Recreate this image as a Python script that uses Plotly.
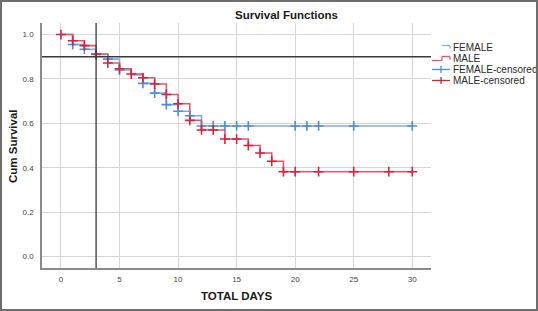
import plotly.graph_objects as go

# ---- data ----
female_t = [0, 1, 2, 3, 4, 5, 6, 7, 8, 9, 10, 11, 12, 30]
female_s = [1.0, 0.955, 0.934, 0.910, 0.889, 0.840, 0.818, 0.780, 0.736, 0.684, 0.654, 0.634, 0.588, 0.588]

male_t = [0, 1, 2, 3, 4, 5, 6, 7, 8, 9, 10, 11, 12, 14, 16, 17, 18, 19, 30]
male_s = [1.0, 0.972, 0.950, 0.912, 0.872, 0.846, 0.822, 0.805, 0.777, 0.730, 0.688, 0.613, 0.570,
          0.529, 0.500, 0.466, 0.429, 0.382, 0.382]

female_cens_t = [1, 2, 3, 4, 5, 7, 8, 9, 10, 11, 12, 13, 14, 15, 16, 20, 21, 22, 25, 30]
female_cens_s = [0.955, 0.934, 0.910, 0.889, 0.840, 0.780, 0.736, 0.684, 0.654, 0.634, 0.588, 0.588,
                 0.588, 0.588, 0.588, 0.588, 0.588, 0.588, 0.588, 0.588]

male_cens_t = [0, 1, 2, 3, 4, 5, 6, 7, 8, 9, 10, 11, 12, 13, 14, 15, 16, 17, 18, 19, 20, 22, 25, 28, 30]
male_cens_s = [1.0, 0.972, 0.950, 0.912, 0.872, 0.846, 0.822, 0.805, 0.777, 0.730, 0.688, 0.613, 0.570,
               0.570, 0.529, 0.529, 0.500, 0.466, 0.429, 0.382, 0.382, 0.382, 0.382, 0.382, 0.382]

ref_survival = 0.9
ref_day = 3

x_ticks = [0, 5, 10, 15, 20, 25, 30]
y_ticks = [0.0, 0.2, 0.4, 0.6, 0.8, 1.0]
y_ticklabels = ["0.0", "0.2", "0.4", "0.6", "0.8", "1.0"]

legend_labels = ["FEMALE", "MALE", "FEMALE-censored", "MALE-censored"]

# ---- styling ----
W, H = 538, 311
ML, MR, MT, MB = 42, 107, 23, 43
PW, PH = W - ML - MR, H - MT - MB
BLUE_LINE = "#79aee3"
BLUE_MARK = "#4a8fd6"
RED_LINE = "#e5566d"
RED_MARK = "#d8213c"
FONT = "Arial, Liberation Sans, sans-serif"


def px(x):
    return (x - ML) / PW


def py(y):
    return (H - MB - y) / PH


def seg(x0, y0, x1, y1, color):
    return dict(type="line", xref="paper", yref="paper", x0=px(x0), x1=px(x1), y0=py(y0), y1=py(y1),
                line=dict(color=color, width=1.3))


fig = go.Figure()

fig.add_trace(go.Scatter(x=female_t, y=female_s, mode="lines", line=dict(shape="hv", color=BLUE_LINE, width=1.6),
                         name=legend_labels[0], showlegend=False))
fig.add_trace(go.Scatter(x=male_t, y=male_s, mode="lines", line=dict(shape="hv", color=RED_LINE, width=1.6),
                         name=legend_labels[1], showlegend=False))
fig.add_trace(go.Scatter(x=female_cens_t, y=female_cens_s, mode="markers",
                         marker=dict(symbol="cross-thin", size=7, line=dict(color=BLUE_MARK, width=1.6)),
                         name=legend_labels[2], showlegend=False))
fig.add_trace(go.Scatter(x=male_cens_t, y=male_cens_s, mode="markers",
                         marker=dict(symbol="cross-thin", size=7, line=dict(color=RED_MARK, width=1.6)),
                         name=legend_labels[3], showlegend=False))

# reference lines
fig.add_hline(y=ref_survival, line=dict(color="#3a3a3a", width=1.3))
fig.add_vline(x=ref_day, line=dict(color="#3a3a3a", width=1.3))

shapes = []
# manual legend
leg_x0, leg_x1 = 432, 450
leg_y = [47.5, 58.5, 69.5, 80.5]
cols = [BLUE_LINE, RED_LINE, BLUE_MARK, RED_MARK]
annotations = []
for i, lab in enumerate(legend_labels):
    yy = leg_y[i]
    c = cols[i]
    if i < 2:
        shapes.append(seg(leg_x0, yy + 2, leg_x0 + 10, yy + 2, c))
        shapes.append(seg(leg_x0 + 10, yy + 2, leg_x0 + 10, yy - 2, c))
        shapes.append(seg(leg_x0 + 10, yy - 2, leg_x1, yy - 2, c))
        shapes.append(seg(leg_x1, yy - 2, leg_x1, yy + 1, c))
    else:
        shapes.append(seg(leg_x0, yy, leg_x1, yy, c))
        shapes.append(seg(441, yy - 3.5, 441, yy + 3.5, c))
    annotations.append(dict(text=lab, xref="paper", yref="paper", x=px(451), y=py(yy), xanchor="left",
                            yanchor="middle", showarrow=False, font=dict(family=FONT, size=10, color="#2a2a2a")))

# axis titles
annotations.append(dict(text="<b>TOTAL DAYS</b>", xref="paper", yref="paper", x=px(237), y=py(295.5),
                        xanchor="center", yanchor="middle", showarrow=False,
                        font=dict(family=FONT, size=11.5, color="#1a1a1a")))
annotations.append(dict(text="<b>Cum Survival</b>", xref="paper", yref="paper", x=px(13), y=py(146),
                        xanchor="center", yanchor="middle", showarrow=False, textangle=-90,
                        font=dict(family=FONT, size=11.5, color="#1a1a1a")))

fig.update_layout(
    width=W, height=H,
    margin=dict(l=ML, r=MR, t=MT, b=MB),
    paper_bgcolor="white", plot_bgcolor="white",
    showlegend=False,
    title=dict(text="<b>Survival Functions</b>", x=286.5 / W, xanchor="center", y=1 - 15 / H,
               yanchor="middle", font=dict(family=FONT, size=11.5, color="#1a1a1a")),
    shapes=shapes,
    annotations=annotations,
    font=dict(family=FONT),
)
fig.update_xaxes(range=[-1.62, 31.6], tickvals=x_ticks, showgrid=True, gridcolor="#d6d6d6", gridwidth=1,
                 zeroline=False, showline=True, linecolor="#8a8a8a", linewidth=1.5,
                 tickfont=dict(family=FONT, size=8, color="#444"), ticks="", ticklabelstandoff=3)
fig.update_yaxes(range=[-0.052, 1.052], tickvals=y_ticks, ticktext=y_ticklabels, showgrid=True,
                 gridcolor="#d6d6d6", gridwidth=1, zeroline=False, showline=True, linecolor="#8a8a8a",
                 linewidth=1.5, tickfont=dict(family=FONT, size=8, color="#444"), ticks="",
                 ticklabelstandoff=5)

post = ("document.body.style.margin='0';document.body.style.padding='0';"
        "var bd=document.createElement('div');"
        "bd.style.cssText='position:fixed;left:0;top:0;width:538px;height:311px;"
        "border:2px solid #6e6e6e;box-sizing:border-box;pointer-events:none;z-index:9999';"
        "document.body.appendChild(bd);")

fig.write_html("out.html", post_script=post, config={"displayModeBar": False})
